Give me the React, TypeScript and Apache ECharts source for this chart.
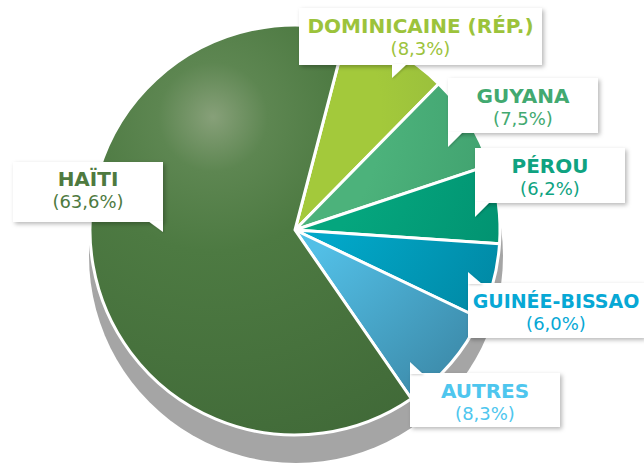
import React, { useEffect, useRef } from "react";
import * as echarts from "echarts";

// ---- data ----
const categories = ["DOMINICAINE (RÉP.)", "GUYANA", "PÉROU", "GUINÉE-BISSAO", "AUTRES", "HAÏTI"];
const shares = [8.3, 7.5, 6.2, 6.0, 8.3, 63.6];

// ---- styles ----
const textColors = ["#9cc33b", "#42a970", "#0fa381", "#07a8d5", "#4ec6ee", "#4e7a3f"];
const nameSizes = [20, 20, 20, 19, 20, 20];
const sliceStops: [string, string][] = [
  ["#a3c93b", "#86aa3f"],
  ["#4cb27b", "#389566"],
  ["#05a67e", "#008a6b"],
  ["#02a7c8", "#00819b"],
  ["#52bfe6", "#3a84a2"],
  ["#4e7b43", "#3d6535"],
];
const labelBoxes = [
  [299, 8, 243, 57],
  [448, 78, 150, 55],
  [475, 148, 150, 55],
  [468, 283, 176, 55],
  [410, 373, 150, 54],
  [13, 162, 150, 60],
];
const pointers = [
  [[392, 64], [407, 64], [392, 78]],
  [[448, 132], [463, 132], [448, 147]],
  [[475, 202], [490, 202], [475, 217]],
  [[468, 284], [482, 284], [468, 272]],
  [[410, 374], [423, 374], [410, 362]],
  [[148, 221], [163, 221], [163, 232]],
];
const CX = 295;
const CY = 230;
const R = 205;
const HL = [213, 117];

function sliceFill(i: number) {
  const [a, b] = sliceStops[i];
  if (i === 5) {
    return {
      type: "radial", x: HL[0], y: HL[1], r: 420, global: true,
      colorStops: [
        { offset: 0, color: "#87a079" },
        { offset: 0.13, color: "#5d8651" },
        { offset: 0.32, color: "#4d7a42" },
        { offset: 1, color: b },
      ],
    };
  }
  return {
    type: "radial", x: HL[0], y: HL[1], r: 420, global: true,
    colorStops: [
      { offset: 0, color: a },
      { offset: 0.4, color: a },
      { offset: 0.9, color: b },
      { offset: 1, color: b },
    ],
  };
}

export default function App() {
  const ref = useRef<HTMLDivElement>(null);
  useEffect(() => {
    const chart = echarts.init(ref.current!, null, { renderer: "svg" });
    const data = categories.map((name, i) => {
      const [, , w, h] = labelBoxes[i];
      const pt = i === 5 ? 6 : 7;
      return {
        name,
        value: shares[i],
        itemStyle: { color: sliceFill(i) as any },
        label: {
          width: w,
          padding: [pt, 0, h - 44 - pt, 0],
          rich: {
            n: { fontFamily: "DejaVu Sans", fontSize: nameSizes[i], fontWeight: "bold", color: textColors[i], lineHeight: 22, align: "center" },
            p: { fontFamily: "DejaVu Sans", fontSize: 18, color: textColors[i], lineHeight: 22, align: "center" },
          },
        },
      };
    });
    chart.setOption({
      animation: false,
      graphic: [
        {
          type: "circle",
          z: 0,
          shape: { cx: CX + 1, cy: CY + 26, r: R + 2 },
          style: { fill: "#a5a5a5" },
          silent: true,
        },
        ...pointers.map((pts) => ({
          type: "polygon",
          z: 10,
          shape: { points: pts },
          style: { fill: "#ffffff", shadowColor: "rgba(0,0,0,0.18)", shadowBlur: 2, shadowOffsetX: 1, shadowOffsetY: 1 },
          silent: true,
        })),
      ],
      series: [
        {
          type: "pie",
          center: [CX, CY],
          radius: [0, R],
          startAngle: 75.4,
          clockwise: true,
          avoidLabelOverlap: false,
          silent: true,
          emphasis: { disabled: true },
          itemStyle: { borderColor: "#ffffff", borderWidth: 3 },
          labelLine: { show: false },
          label: {
            show: true,
            position: "outside",
            backgroundColor: "#ffffff",
            align: "center",
            verticalAlign: "middle",
            shadowColor: "rgba(0,0,0,0.28)",
            shadowBlur: 4,
            shadowOffsetX: 2,
            shadowOffsetY: 2,
            formatter: (p: any) =>
              `{n|${p.name}}\n{p|(${Number(p.value).toFixed(1).replace(".", ",")}%)}`,
          },
          labelLayout: (params: any) => {
            const [x, y, w, h] = labelBoxes[params.dataIndex];
            return { x: x + w / 2, y: y + h / 2, align: "center", verticalAlign: "middle" };
          },
          data,
        },
      ],
    });
    return () => chart.dispose();
  }, []);
  return (
    <div
      ref={ref}
      style={{ position: "fixed", left: 0, top: 0, width: 644, height: 465, background: "#ffffff" }}
    />
  );
}
